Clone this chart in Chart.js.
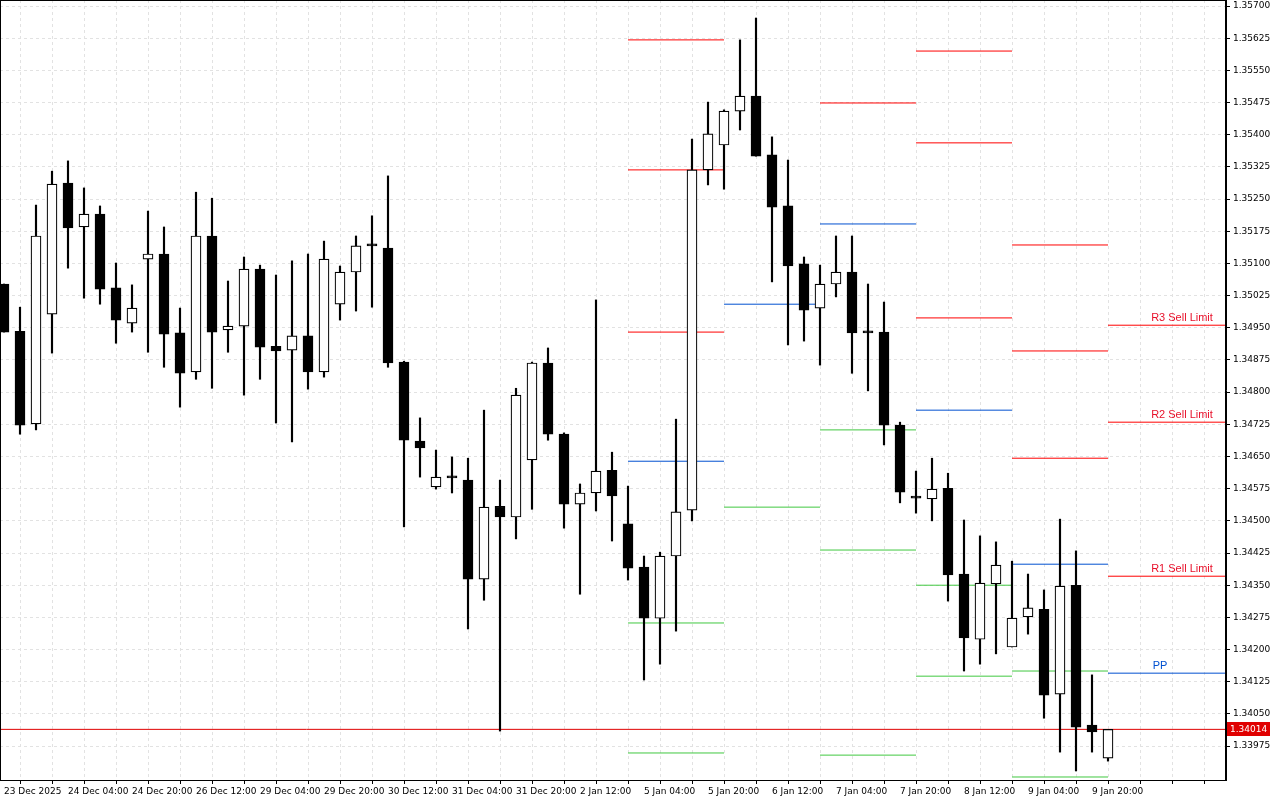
<!DOCTYPE html>
<html><head><meta charset="utf-8">
<script src="https://cdn.jsdelivr.net/npm/chart.js@4"></script>
<style>html,body{margin:0;padding:0;background:#fff}canvas{display:block}</style>
</head><body>
<canvas id="c" width="1280" height="800"></canvas>
<script>
// 4-hour candles (index 0..69)
const opens  = [1.35052,1.34942,1.34726,1.34982,1.35287,1.35185,1.35215,1.35043,1.34961,1.35110,1.35122,1.34938,1.34847,1.35164,1.34945,1.34954,1.35087,1.34907,1.34898,1.34931,1.34847,1.35005,1.35080,1.35143,1.35136,1.34870,1.34686,1.34579,1.34602,1.34595,1.34364,1.34534,1.34509,1.34642,1.34868,1.34702,1.34539,1.34565,1.34618,1.34493,1.34392,1.34273,1.34418,1.34525,1.35318,1.35376,1.35455,1.35490,1.35353,1.35234,1.35099,1.34996,1.35052,1.35080,1.34940,1.34940,1.34723,1.34555,1.34551,1.34576,1.34376,1.34224,1.34353,1.34206,1.34276,1.34294,1.34096,1.34350,1.34024,1.33947];
const highs  = [1.35052,1.34998,1.35236,1.35315,1.35339,1.35276,1.35234,1.35101,1.35050,1.35222,1.35185,1.34996,1.35266,1.35252,1.35059,1.35115,1.35096,1.35073,1.35106,1.35122,1.35152,1.35094,1.35164,1.35211,1.35304,1.34872,1.34740,1.34665,1.34649,1.34646,1.34758,1.34595,1.34809,1.34870,1.34903,1.34705,1.34586,1.35015,1.34660,1.34581,1.34418,1.34427,1.34737,1.35390,1.35476,1.35458,1.35621,1.35672,1.35395,1.35341,1.35115,1.35096,1.35164,1.35164,1.35052,1.35010,1.34730,1.34616,1.34646,1.34611,1.34502,1.34465,1.34451,1.34406,1.34376,1.34339,1.34504,1.34430,1.34141,1.34014];
const lows   = [1.34940,1.34702,1.34712,1.34891,1.35089,1.35019,1.35005,1.34914,1.34940,1.34893,1.34858,1.34765,1.34830,1.34809,1.34893,1.34793,1.34830,1.34728,1.34684,1.34807,1.34835,1.34968,1.34989,1.34998,1.34858,1.34486,1.34602,1.34574,1.34565,1.34248,1.34315,1.34010,1.34458,1.34527,1.34688,1.34483,1.34329,1.34523,1.34453,1.34362,1.34129,1.34166,1.34243,1.34500,1.35283,1.35273,1.35411,1.35350,1.35057,1.34910,1.34919,1.34863,1.35022,1.34844,1.34803,1.34677,1.34542,1.34518,1.34500,1.34313,1.34150,1.34166,1.34190,1.34206,1.34236,1.34040,1.33961,1.33917,1.33961,1.33940];
const closes = [1.34940,1.34723,1.35164,1.35285,1.35183,1.35215,1.35040,1.34968,1.34996,1.35122,1.34935,1.34844,1.35164,1.34940,1.34954,1.35087,1.34905,1.34896,1.34931,1.34847,1.35110,1.35080,1.35141,1.35141,1.34868,1.34688,1.34670,1.34602,1.34600,1.34364,1.34532,1.34509,1.34793,1.34868,1.34702,1.34539,1.34565,1.34616,1.34558,1.34390,1.34273,1.34418,1.34521,1.35318,1.35402,1.35455,1.35490,1.35350,1.35231,1.35094,1.34991,1.35052,1.35080,1.34938,1.34938,1.34723,1.34567,1.34553,1.34574,1.34374,1.34227,1.34355,1.34397,1.34273,1.34297,1.34094,1.34348,1.34019,1.34008,1.34014];
const tickLabels = ["23 Dec 2025","24 Dec 04:00","24 Dec 20:00","26 Dec 12:00","29 Dec 04:00","29 Dec 20:00","30 Dec 12:00","31 Dec 04:00","31 Dec 20:00","2 Jan 12:00","5 Jan 04:00","5 Jan 20:00","6 Jan 12:00","7 Jan 04:00","7 Jan 20:00","8 Jan 12:00","9 Jan 04:00","9 Jan 20:00"];
const priceTicks = [1.33975,1.34050,1.34125,1.34200,1.34275,1.34350,1.34425,1.34500,1.34575,1.34650,1.34725,1.34800,1.34875,1.34950,1.35025,1.35100,1.35175,1.35250,1.35325,1.35400,1.35475,1.35550,1.35625,1.35700];
// daily pivot segments (start candle index)
const pivotStarts = [39,45,51,57,63,69];
const pivotRes  = [[1.35621,1.35318,1.34940],[],[1.35474],[1.35595,1.35381,1.34973],[1.35143,1.34896,1.34646],[1.34956,1.34730,1.34371]];
const pivotPP   = [1.34639,1.35005,1.35192,1.34758,1.34399,1.34145];
const pivotSup  = [[1.34262,1.33959],[1.34532],[1.34712,1.34432,1.33954],[1.34350,1.34138],[1.34150,1.33903],[]];
const lastLevelNames = ["R3 Sell Limit","R2 Sell Limit","R1 Sell Limit"];
const currentPrice = 1.34014;

const XMIN=-0.25, XMAX=76.375, YMIN=1.33896, YMAX=1.35714;
const idx = opens.map((_,i)=>i);
const wickData = idx.map(i=>({x:i,y:[lows[i],highs[i]]}));
const bodyData = idx.map(i=>({x:i,y:[opens[i],closes[i]]}));
const bull = idx.map(i=>closes[i]>opens[i]);

const datasets = [];
function seg(s,e,v,col,w){datasets.push({type:'line',data:[{x:s,y:v},{x:e,y:v}],borderColor:col,borderWidth:w||1,pointRadius:0,order:5});}
pivotStarts.forEach((s,d)=>{
  const e = d<pivotStarts.length-1 ? pivotStarts[d+1] : XMAX;
  pivotRes[d].forEach(v=>seg(s,e,v,'#ff0000'));
  seg(s,e,pivotPP[d],'#0050d0');
  pivotSup[d].forEach(v=>seg(s,e,v,'#40c840'));
});
datasets.push({type:'line',data:[{x:XMIN,y:currentPrice},{x:XMAX,y:currentPrice}],borderColor:'#e00000',borderWidth:1,pointRadius:0,order:4});
datasets.push({type:'bar',data:wickData,backgroundColor:'#000',barThickness:1.5,grouped:false,order:3});
datasets.push({type:'bar',data:bodyData,backgroundColor:idx.map(i=>bull[i]?'#fff':'#000'),borderColor:'#000',borderWidth:1.2,borderSkipped:false,barThickness:10,minBarLength:2,grouped:false,order:2});

const overlay={id:'overlay',afterDraw(ch){
  const c=ch.ctx,a=ch.chartArea,y=ch.scales.y;
  c.save();
  c.strokeStyle='#000';c.lineWidth=1;
  c.strokeRect(a.left+0.5,a.top+0.5,a.right-a.left-1,a.bottom-a.top);
  c.font='11px "Liberation Sans", Arial, sans-serif';c.textAlign='center';c.textBaseline='bottom';
  const last=pivotStarts.length-1;
  pivotRes[last].forEach((v,k)=>{c.fillStyle='#e8102a';c.fillText(lastLevelNames[k],1182,y.getPixelForValue(v)-2);});
  c.fillStyle='#0050d0';c.fillText('PP',1160,y.getPixelForValue(pivotPP[last])-2);
  const py=Math.round(y.getPixelForValue(currentPrice));
  c.fillStyle='#e00000';c.fillRect(a.right+1,py-7,43,14);
  c.fillStyle='#fff';c.textAlign='left';c.textBaseline='middle';c.font='9px "DejaVu Sans", sans-serif';
  c.fillText(currentPrice.toFixed(5),a.right+4,py+0.5);
  c.restore();
}};

new Chart(document.getElementById('c'),{
  type:'bar',
  data:{datasets},
  options:{responsive:false,animation:false,devicePixelRatio:1,
    layout:{padding:0},
    plugins:{legend:{display:false},tooltip:{enabled:false}},
    scales:{
      x:{type:'linear',min:XMIN,max:XMAX,offset:false,
        afterBuildTicks(s){const t=[];for(let i=0;i<=76;i+=2)t.push({value:i});s.ticks=t;},
        afterFit(s){s.height=20;s.paddingLeft=0;s.paddingRight=0;},
        ticks:{autoSkip:false,maxRotation:0,align:'start',padding:2,color:'#000',font:{size:9,family:'"DejaVu Sans", sans-serif'},
          callback(v){return (v%4===0&&v/4<tickLabels.length)?tickLabels[v/4]:'';}},
        grid:{color:'#e2e2e2',tickLength:4,tickColor:'#000',drawTicks:true},
        border:{display:true,color:'#000',dash:[3,3]}
      },
      y:{position:'right',min:YMIN,max:YMAX,
        afterBuildTicks(s){s.ticks=priceTicks.map(v=>({value:v}));},
        afterFit(s){s.width=54;s.paddingTop=0;s.paddingBottom=0;},
        ticks:{padding:3,color:'#000',font:{size:9,family:'"DejaVu Sans", sans-serif'},callback(v){return v.toFixed(5);}},
        grid:{color:'#e2e2e2',tickLength:4,tickColor:'#000'},
        border:{display:true,color:'#000',dash:[3,3]}
      }
    }
  },
  plugins:[overlay]
});
</script>
</body></html>
